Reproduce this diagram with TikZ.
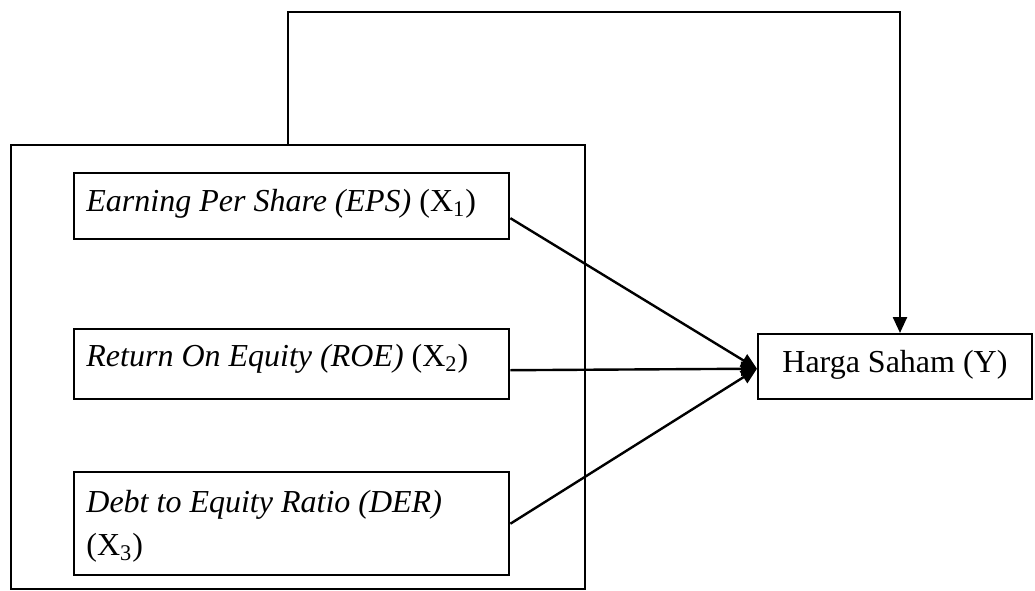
\documentclass[tikz,border=0pt]{standalone}
\usepackage{fontspec}
\setmainfont{Liberation Serif}
\usetikzlibrary{arrows.meta}
\begin{document}
\begin{tikzpicture}[x=0.5pt,y=-0.5pt,
  frame/.style={draw, line width=1.2pt, inner sep=0pt, anchor=north west},
  lbl/.style={inner sep=0pt, anchor=base west, font=\fontsize{16}{23}\selectfont},
  link/.style={line width=1.2pt, -{Triangle[length=8pt,width=7pt]}}]
\useasboundingbox (0,0) rectangle (1035,590);

% group of independent variables
\node[frame, minimum width=287pt, minimum height=222pt] (grp) at (10,144) {};

% independent variables
\node[frame, minimum width=217.5pt, minimum height=33pt] (eps) at (73,172) {};
\node[lbl] (epst) at (86,211) {\textit{Earning Per Share (EPS)} (X\textsubscript{1})};

\node[frame, minimum width=217.5pt, minimum height=35pt] (roe) at (73,328) {};
\node[lbl] (roet) at (86,366) {\textit{Return On Equity (ROE)} (X\textsubscript{2})};

\node[frame, minimum width=217.5pt, minimum height=51.5pt] (der) at (73,471) {};
\node[lbl] (dert) at (86,512) {\textit{Debt to Equity Ratio (DER)}};
\node[lbl] (derx) at (86,555) {(X\textsubscript{3})};

% dependent variable
\node[frame, minimum width=137pt, minimum height=32.5pt] (harga) at (757,333) {};
\node[lbl] (hargat) at (782,372) {Harga Saham (Y)};

% partial effects
\draw[link] ([yshift=-6pt]eps.east) -- ([yshift=-1pt]harga.west);
\draw[link] ([yshift=-3pt]roe.east) -- ([yshift=-1pt]harga.west);
\draw[link] (der.east) -- ([yshift=-1pt]harga.west);

% simultaneous effect
\draw[link] ([xshift=139pt]grp.north west) -- ++(0,-132)
  -| ([xshift=71.5pt]harga.north west);
\end{tikzpicture}
\end{document}
